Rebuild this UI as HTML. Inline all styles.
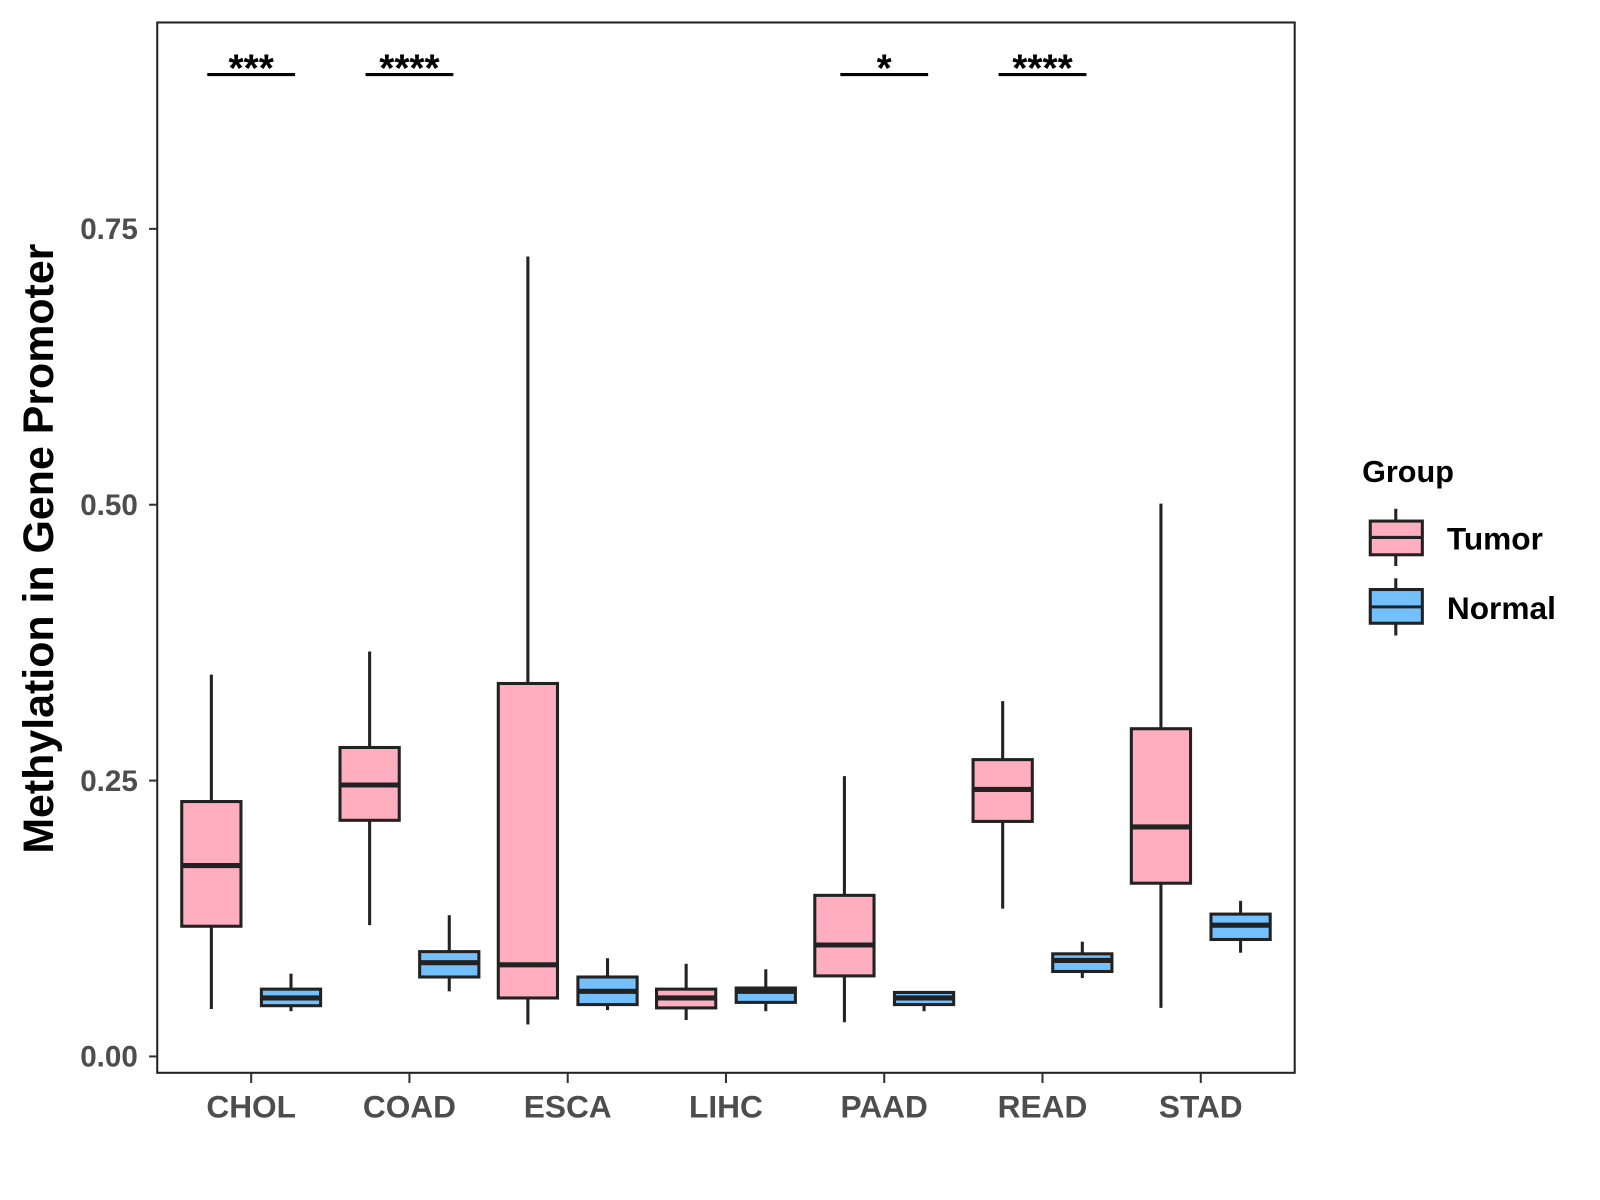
<!DOCTYPE html>
<html><head><meta charset="utf-8"><style>
html,body{margin:0;padding:0;background:#fff;}
svg{display:block;font-family:"Liberation Sans",Arial,sans-serif;}
</style></head><body>
<svg id="chart" width="1600" height="1200" viewBox="0 0 1567 1174.5" preserveAspectRatio="none">
<rect x="0" y="0" width="1567" height="1175" fill="#fff"/>
<g id="plot"></g>
<rect x="154" y="22" width="1114" height="1028" fill="none" stroke="#222" stroke-width="2"/>
<text x="0" y="0" transform="translate(52,537) rotate(-90)" text-anchor="middle" font-size="42" font-weight="bold" fill="#000">Methylation in Gene Promoter</text>
<g>
<text x="1334" y="472" font-size="30" font-weight="bold">Group</text>
<g>
<line x1="1367" y1="498" x2="1367" y2="554" stroke="#222" stroke-width="3"/>
<rect x="1342" y="510" width="51" height="33" fill="#FFAEC0" stroke="#222" stroke-width="3"/>
<line x1="1342" y1="526" x2="1393" y2="526" stroke="#222" stroke-width="3"/>
<text x="1417" y="538" font-size="31" font-weight="bold">Tumor</text>
</g>
<g>
<line x1="1367" y1="566" x2="1367" y2="622" stroke="#222" stroke-width="3"/>
<rect x="1342" y="577" width="51" height="33" fill="#74C0FC" stroke="#222" stroke-width="3"/>
<line x1="1342" y1="594" x2="1393" y2="594" stroke="#222" stroke-width="3"/>
<text x="1417" y="606" font-size="31" font-weight="bold">Normal</text>
</g>
</g>
</svg>
<script>
const categories=["CHOL","COAD","ESCA","LIHC","PAAD","READ","STAD"];
const tumorMin=[0.043,0.119,0.029,0.033,0.031,0.134,0.044];
const tumorQ1=[0.118,0.214,0.053,0.044,0.073,0.213,0.157];
const tumorMed=[0.173,0.246,0.083,0.053,0.101,0.242,0.208];
const tumorQ3=[0.231,0.280,0.338,0.061,0.146,0.269,0.297];
const tumorMax=[0.346,0.367,0.725,0.084,0.254,0.322,0.501];
const normalMin=[0.041,0.059,0.042,0.041,0.041,0.071,0.094];
const normalQ1=[0.046,0.072,0.047,0.049,0.047,0.077,0.106];
const normalMed=[0.053,0.085,0.059,0.059,0.053,0.087,0.119];
const normalQ3=[0.061,0.095,0.072,0.062,0.058,0.093,0.129];
const normalMax=[0.075,0.128,0.089,0.079,0.059,0.104,0.141];
const yTicks=[0,0.25,0.5,0.75];
const yTickLabels=["0.00","0.25","0.50","0.75"];
const sigLabels=["***","****","","","*","****",""];

const NS="http://www.w3.org/2000/svg";
const plot=document.getElementById('plot');
const svg=document.getElementById('chart');
function y(v){return 1034-v*1080;}
function x(i){return 246+i*155;}
function mk(tag,attrs,parent){const e=document.createElementNS(NS,tag);for(const k in attrs)e.setAttribute(k,attrs[k]);(parent||plot).appendChild(e);return e;}

yTicks.forEach((t,i)=>{
  const tk=mk('line',{x1:146,x2:154,y1:y(t),y2:y(t),stroke:'#333','stroke-width':2},svg);
  
  
  const tl=mk('text',{x:135,y:y(t)+10,'text-anchor':'end','font-size':29,'font-weight':'bold',fill:'#4d4d4d'},svg);
  tl.textContent=yTickLabels[i];
  
  
});
categories.forEach((c,i)=>{
  const tk=mk('line',{x1:x(i),x2:x(i),y1:1050,y2:1060,stroke:'#333','stroke-width':2},svg);
  
  
  const tl=mk('text',{x:x(i),y:1094,'text-anchor':'middle','font-size':31,'font-weight':'bold',fill:'#4d4d4d'},svg);
  tl.textContent=c;
  
  
});
function box(cx,mn,q1,md,q3,mx,fill,name){
  const g=mk('g',{});
  
  
  mk('line',{x1:cx,x2:cx,y1:y(mx),y2:y(q3),stroke:'#222','stroke-width':3},g);
  mk('line',{x1:cx,x2:cx,y1:y(q1),y2:y(mn),stroke:'#222','stroke-width':3},g);
  mk('rect',{x:cx-29,y:y(q3),width:58,height:Math.max(y(q1)-y(q3),1),fill:fill,stroke:'#222','stroke-width':3},g);
  mk('line',{x1:cx-29,x2:cx+29,y1:y(md),y2:y(md),stroke:'#222','stroke-width':5},g);
}
categories.forEach((c,i)=>{
  box(x(i)-39,tumorMin[i],tumorQ1[i],tumorMed[i],tumorQ3[i],tumorMax[i],'#FFAEC0','box-tumor-'+c.toLowerCase());
  box(x(i)+39,normalMin[i],normalQ1[i],normalMed[i],normalQ3[i],normalMax[i],'#74C0FC','box-normal-'+c.toLowerCase());
  if(sigLabels[i]){
    const l=mk('line',{x1:x(i)-43,x2:x(i)+43,y1:73,y2:73,stroke:'#000','stroke-width':3});
    
    
    const t=mk('text',{x:x(i),y:80,'text-anchor':'middle','font-size':38,'font-weight':'bold',fill:'#000'});
    t.textContent=sigLabels[i];
    
    
  }
});
</script>
</body></html>
